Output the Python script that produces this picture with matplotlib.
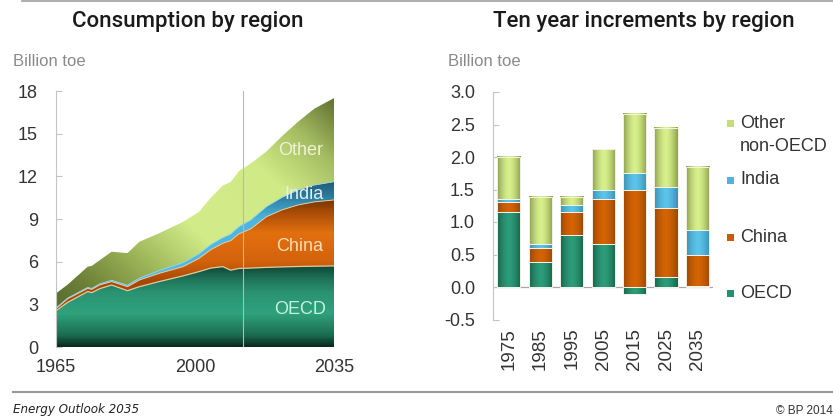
import numpy as np
import matplotlib
matplotlib.use('Agg')
import matplotlib.pyplot as plt
from matplotlib import font_manager
from matplotlib.colors import LinearSegmentedColormap
from matplotlib.patches import Rectangle
from matplotlib.lines import Line2D

plt.rcParams['font.family'] = ['Liberation Sans', 'DejaVu Sans']
plt.rcParams['axes.unicode_minus'] = False

# consumption by region, billion toe (layer thickness)
years = [1965, 1968, 1973, 1974, 1976, 1979, 1983, 1986, 1991, 1997, 2001,
         2004, 2007, 2009, 2011, 2014, 2018, 2022, 2026, 2030, 2035]
oecd = [2.55, 3.15, 3.90, 3.82, 4.10, 4.36, 3.96, 4.24, 4.60, 5.00, 5.30,
        5.55, 5.65, 5.40, 5.52, 5.55, 5.60, 5.63, 5.66, 5.68, 5.70]
china = [0.15, 0.25, 0.22, 0.23, 0.26, 0.24, 0.28, 0.47, 0.58, 0.65, 0.93,
         1.30, 1.64, 2.08, 2.43, 2.75, 3.56, 4.02, 4.33, 4.52, 4.64]
india = [0.05, 0.05, 0.07, 0.07, 0.08, 0.09, 0.11, 0.13, 0.20, 0.28, 0.32,
         0.36, 0.40, 0.46, 0.50, 0.62, 0.71, 0.88, 1.05, 1.18, 1.28]
other = [1.02, 0.95, 1.46, 1.58, 1.66, 2.01, 2.25, 2.56, 2.62, 2.87, 2.95,
         3.29, 3.66, 3.66, 3.90, 3.98, 3.88, 4.32, 4.81, 5.37, 5.88]
outlook_start = 2012

# ten year increments by region, billion toe
decades = ['1975', '1985', '1995', '2005', '2015', '2025', '2035']
inc_oecd = [1.15, 0.39, 0.80, 0.66, -0.11, 0.16, 0.01]
inc_china = [0.16, 0.21, 0.35, 0.70, 1.49, 1.06, 0.48]
inc_india = [0.04, 0.06, 0.11, 0.13, 0.26, 0.32, 0.38]
inc_other = [0.65, 0.73, 0.13, 0.63, 0.91, 0.91, 0.98]

W, H = 833, 417
fig = plt.figure(figsize=(W / 100, H / 100), dpi=100)


def vcmap(stops, top=18.0):
    return LinearSegmentedColormap.from_list('g', [(y / top, c) for y, c in stops])


cm_oecd = vcmap([(0, '#0a2c20'), (0.8, '#1b6d52'), (2.3, '#2fa27c'),
                 (3.8, '#2a9372'), (4.7, '#1f7559'), (5.6, '#114a39'), (18, '#114a39')])
cm_china = vcmap([(0, '#a84808'), (4.6, '#a84808'), (6.0, '#d2620c'),
                  (8.0, '#e3700f'), (9.5, '#a94c06'), (10.5, '#6a3205'), (18, '#6a3205')])
cm_india = vcmap([(0, '#5cc4ea'), (9.0, '#4db5df'), (10.5, '#2f7fa0'),
                  (11.8, '#1e5670'), (18, '#1e5670')])
cm_other = LinearSegmentedColormap.from_list('o', [
    (0.0, '#4a5a28'), (0.18, '#6f8238'), (0.33, '#9fb85a'), (0.48, '#d3ec8a'),
    (0.72, '#d0ea86'), (0.86, '#a4bd62'), (1.0, '#5a6a30')])

# ---- left: consumption by region
ax1 = fig.add_axes([56 / W, 70 / H, 278 / W, 256 / H])
yrs = np.array(years)
c1 = np.array(oecd)
c2 = c1 + np.array(china)
c3 = c2 + np.array(india)
c4 = c3 + np.array(other)

ny = 300
vgrid = np.linspace(0, 1, ny)[:, None] * np.ones((1, 2))
X, Y = np.meshgrid(np.linspace(0, 1, 200), np.linspace(0, 1, ny))
dgrid = (X + Y) / 2

layers = [(np.zeros_like(c1), c1, cm_oecd, vgrid),
          (c1, c2, cm_china, vgrid),
          (c2, c3, cm_india, vgrid),
          (c3, c4, cm_other, dgrid)]
for lo, hi, cmap, grid in layers:
    poly = ax1.fill_between(yrs, lo, hi, facecolor='none', edgecolor='none')
    im = ax1.imshow(grid, extent=(1965, 2035, 0, 18), origin='lower', aspect='auto',
                    cmap=cmap, vmin=0, vmax=1, interpolation='bilinear', zorder=2)
    im.set_clip_path(poly.get_paths()[0], transform=ax1.transData)

ax1.plot(yrs, c1, color='#dccb9c', lw=0.9, zorder=3)
ax1.plot(yrs, c2, color='#e8c898', lw=0.7, zorder=3)
ax1.plot(yrs, c3, color='#8fd2ea', lw=0.6, zorder=3)
ax1.axvline(outlook_start, color='#b8b8b8', lw=0.8, zorder=4)

ax1.set_xlim(1965, 2035)
ax1.set_ylim(0, 18)
ax1.set_yticks(np.arange(0, 19, 3))
ax1.set_xticks([1965, 2000, 2035])
for s in ['top', 'right', 'bottom']:
    ax1.spines[s].set_visible(False)
ax1.spines['left'].set_color('#c4c4c4')
ax1.tick_params(axis='y', direction='in', length=4, color='#c4c4c4',
                labelsize=13, labelcolor='#333333', pad=13)
ax1.tick_params(axis='x', length=0, labelsize=13, labelcolor='#333333', pad=9)

lab_kw = dict(ha='center', va='center', fontsize=13, zorder=5)
ax1.text(2026.7, 13.85, 'Other', color='#eef2d6', **lab_kw)
ax1.text(2027.4, 10.7, 'India', color='#dff0f6', **lab_kw)
ax1.text(2026.4, 7.05, 'China', color='#fadcb6', **lab_kw)
ax1.text(2026.4, 2.65, 'OECD', color='#c8f0e0', **lab_kw)

# ---- right: ten year increments
ax2 = fig.add_axes([493 / W, 97.5 / H, 220.3 / W, 227.5 / H])
xpos = np.arange(len(decades))
bar_cols = [('#2c9c79', '#17634b'), ('#d46405', '#9c4604'),
            ('#5cc3ea', '#3a8fb2'), ('#d8f08c', '#8c9f4e')]
hg = np.abs(np.linspace(-1, 1, 64))[None, :] ** 1.6
base = np.zeros(len(decades))
for vals, (cc, ce) in zip([inc_oecd, inc_china, inc_india, inc_other], bar_cols):
    vals = np.array(vals)
    bottom = np.where(vals >= 0, base, 0.0)
    bars = ax2.bar(xpos, vals, 0.74, bottom=bottom, facecolor='none',
                   edgecolor='#f3f3e8', lw=0.7, zorder=3)
    cmap = LinearSegmentedColormap.from_list('b', [cc, ce])
    for b in bars:
        x0, y0 = b.get_x(), b.get_y()
        ax2.imshow(hg, extent=(x0, x0 + b.get_width(), y0, y0 + b.get_height()),
                   origin='lower', aspect='auto', cmap=cmap, vmin=0, vmax=1,
                   interpolation='bilinear', zorder=2)
    base += np.clip(vals, 0, None)

ax2.axhline(0, color='#a8a8a8', lw=0.9, zorder=1)
ax2.set_xlim(-0.5, len(decades) - 0.5)
ax2.set_ylim(-0.5, 3.0)
ax2.set_yticks(np.arange(-0.5, 3.01, 0.5))
ax2.set_yticklabels(['%.1f' % v for v in np.arange(-0.5, 3.01, 0.5)])
ax2.set_xticks(xpos)
ax2.set_xticklabels(decades, rotation=90)
for s in ['top', 'right', 'bottom']:
    ax2.spines[s].set_visible(False)
ax2.spines['left'].set_color('#c4c4c4')
ax2.tick_params(axis='y', direction='in', length=4, color='#c4c4c4',
                labelsize=13, labelcolor='#333333', pad=13)
ax2.tick_params(axis='x', length=0, labelsize=13.5, labelcolor='#333333', pad=6)

# legend
leg = [('Other\nnon-OECD', '#c6e070', 123), ('India', '#4fb4dc', 180),
       ('China', '#c85a08', 237), ('OECD', '#249070', 293)]
for label, col, yc in leg:
    fig.patches.append(Rectangle((727 / W, (H - yc - 3.5) / H), 7 / W, 7 / H,
                                 transform=fig.transFigure, facecolor=col,
                                 edgecolor='none'))
    lines = label.split('\n')
    for k, ln in enumerate(lines):
        fig.text(740 / W, (H - yc - 23.5 * k) / H, ln, fontsize=13,
                 color='#333333', va='center', ha='left')

# titles and frame
title_kw = dict(fontsize=16, family=['Roboto', 'Liberation Sans'], weight='medium',
                color='#1a1a1a', ha='center', va='center')
fig.text(188 / W, (H - 22) / H, 'Consumption by region', **title_kw)
fig.text(644 / W, (H - 22) / H, 'Ten year increments by region', **title_kw)
fig.text(13 / W, (H - 61) / H, 'Billion toe', fontsize=12, color='#8a8a8a',
         ha='left', va='center')
fig.text(448 / W, (H - 61) / H, 'Billion toe', fontsize=12, color='#8a8a8a',
         ha='left', va='center')
fig.lines.append(Line2D([22 / W, 1], [(H - 1) / H] * 2, transform=fig.transFigure,
                        color='#a0a0a0', lw=1.2))
fig.lines.append(Line2D([13 / W, 1], [(H - 392) / H] * 2, transform=fig.transFigure,
                        color='#9a9a9a', lw=1.5))

# a condensed italic face for the footer, if one is installed
foot_kw = dict(fontsize=8.5, style='italic')
rank = {'extra-condensed': 0, 'condensed': 1, 'semi-condensed': 2}
cond = [f for f in font_manager.fontManager.ttflist
        if f.stretch in rank and f.style in ('italic', 'oblique')
        and f.weight in (400, 'normal', 'regular')]
cond.sort(key=lambda f: rank[f.stretch])
if cond:
    size = 9.5 if cond[0].stretch != 'semi-condensed' else 8.5
    foot_kw = dict(fontproperties=font_manager.FontProperties(fname=cond[0].fname, size=size))
fig.text(13 / W, (H - 409) / H, 'Energy Outlook 2035', color='#222222',
         ha='left', va='center', **foot_kw)
fig.text(776 / W, (H - 411) / H, '\u00a9 BP 2014', fontsize=8.5, color='#333333',
         ha='left', va='center')

fig.savefig('out.png', dpi=100)
